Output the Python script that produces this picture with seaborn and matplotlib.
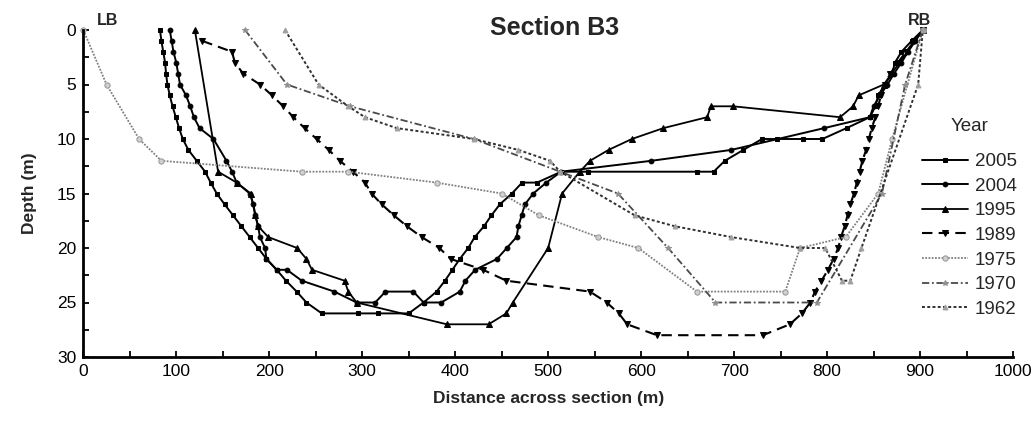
import matplotlib
matplotlib.use("Agg")
import matplotlib.pyplot as plt
import seaborn as sns
from matplotlib.ticker import MultipleLocator

sns.set_theme(style="ticks")
plt.rcParams['font.family'] = ['Liberation Sans', 'DejaVu Sans']

years = ["2005", "2004", "1995", "1989", "1975", "1970", "1962"]

x_2005 = [82.5, 84, 86, 88, 89, 90.5, 93, 96, 99.5, 103, 107, 113, 122, 131, 137, 143.5, 152, 161, 170, 179,
          188, 197, 208, 218, 229.5, 240, 256.5, 296, 317, 350, 366, 380, 389, 397, 405, 414, 421, 431, 439, 448,
          461, 472, 488, 514, 543, 660, 678, 690, 710, 730, 746, 774, 795, 821, 846, 852, 855, 862, 870, 873,
          880, 891, 903]
d_2005 = [0, 1, 2, 3, 4, 5, 6, 7, 8, 9, 10, 11, 12, 13, 14, 15, 16, 17, 18, 19, 20, 21, 22, 23, 24, 25, 26,
          26, 26, 26, 25, 24, 23, 22, 21, 20, 19, 18, 17, 16, 15, 14, 14, 13, 13, 13, 13, 12, 11, 10, 10, 10, 10,
          9, 8, 7, 6, 5, 4, 3, 2, 1, 0]

x_2004 = [93, 95, 97, 100, 102, 104, 110.5, 115, 119, 125, 140, 154, 160, 165, 179, 183, 185, 188, 190, 195.5,
          197, 208, 219, 235, 270, 294, 314, 325, 355, 366, 385, 405, 411, 421.5, 445, 455.5, 466, 468, 471.5,
          475, 484, 498, 514, 611, 697, 797, 846, 850, 857, 865, 872, 880, 887, 895, 903]
d_2004 = [0, 1, 2, 3, 4, 5, 6, 7, 8, 9, 10, 12, 13, 14, 15, 16, 17, 18, 19, 20, 21, 22, 22, 23, 24, 25, 25, 24,
          24, 25, 25, 24, 23, 22, 21, 20, 19, 18, 17, 16, 15, 14, 13, 12, 11, 9, 8, 7, 6, 5, 4, 3, 2, 1, 0]

x_1995 = [120, 145, 165, 180, 185, 188, 199, 230, 240, 246, 281, 285, 294, 391, 436, 455, 462, 500, 515, 534,
          545, 565, 590, 624, 671, 675, 699, 814, 828, 834, 861, 903]
d_1995 = [0, 13, 14, 15, 17, 18, 19, 20, 21, 22, 23, 24, 25, 27, 27, 26, 25, 20, 15, 13,
          12, 11, 10, 9, 8, 7, 7, 8, 7, 6, 5, 0]

x_1989 = [128, 160, 163, 172, 190, 203, 215, 226, 238, 251, 264, 276, 290, 303, 310, 321, 334, 348, 364, 383,
          395, 430, 455, 545, 563, 576, 585, 617, 731, 760, 773, 782, 787, 794, 801, 807, 812, 815, 819, 822,
          825, 829, 832, 835, 838, 842, 845, 848, 852, 855, 858, 862, 868, 876, 885, 894, 903]
d_1989 = [1, 2, 3, 4, 5, 6, 7, 8, 9, 10, 11, 12, 13, 14, 15, 16, 17, 18, 19, 20, 21, 22, 23, 24, 25, 26, 27, 28,
          28, 27, 26, 25, 24, 23, 22, 21, 20, 19, 18, 17, 16, 15, 14, 13, 12, 11, 10, 9, 8, 7, 6, 5, 4, 3, 2, 1, 0]

x_1975 = [0, 25, 60, 84, 235, 285, 380, 450, 490, 554, 597, 660, 755, 771, 820, 855, 870, 903]
d_1975 = [0, 5, 10, 12, 13, 13, 14, 15, 17, 19, 20, 24, 24, 20, 19, 15, 10, 0]

x_1970 = [174, 219, 287, 420, 513, 575, 629, 680, 789, 859, 884, 903]
d_1970 = [0, 5, 7, 10, 13, 15, 20, 25, 25, 15, 5, 0]

x_1962 = [217, 253, 285, 303, 337, 420, 468, 502, 513, 593, 636, 697, 771, 798, 816, 825, 837, 898, 903]
d_1962 = [0, 5, 7, 8, 9, 10, 11, 12, 13, 17, 18, 19, 20, 20, 23, 23, 20, 5, 0]

series = {
    "2005": (x_2005, d_2005),
    "2004": (x_2004, d_2004),
    "1995": (x_1995, d_1995),
    "1989": (x_1989, d_1989),
    "1975": (x_1975, d_1975),
    "1970": (x_1970, d_1970),
    "1962": (x_1962, d_1962),
}

styles = {
    "2005": dict(color="black", linestyle="-", linewidth=1.4, marker="s", markersize=3.2,
                 markerfacecolor="black", markeredgecolor="black"),
    "2004": dict(color="black", linestyle="-", linewidth=1.4, marker="o", markersize=3.4,
                 markerfacecolor="black", markeredgecolor="black"),
    "1995": dict(color="black", linestyle="-", linewidth=1.3, marker="^", markersize=4,
                 markerfacecolor="black", markeredgecolor="black"),
    "1989": dict(color="black", linestyle=(0, (5, 3)), linewidth=1.5, marker="v", markersize=5,
                 markerfacecolor="black", markeredgecolor="black"),
    "1975": dict(color="#808080", linestyle=(0, (1, 0.8)), linewidth=1.3, marker="o", markersize=3.8,
                 markerfacecolor="#d0d0d0", markeredgecolor="#9a9a9a"),
    "1970": dict(color="#4a4a4a", linestyle=(0, (4, 1.5, 1, 1.5)), linewidth=1.3, marker="*", markersize=4,
                 markerfacecolor="#909090", markeredgecolor="#909090"),
    "1962": dict(color="#303030", linestyle=(0, (1.5, 1.2)), linewidth=1.4, marker="^", markersize=3.5,
                 markerfacecolor="#a0a0a0", markeredgecolor="#a0a0a0"),
}

W, H = 1035, 426
fig = plt.figure(figsize=(W / 100, H / 100), dpi=100)
ax_l, ax_r, ax_t, ax_b = 83.3, 1013, 30, 357
ax = fig.add_axes([ax_l / W, 1 - ax_b / H, (ax_r - ax_l) / W, (ax_b - ax_t) / H])

for yr in years:
    xs, ds = series[yr]
    sns.lineplot(x=xs, y=ds, ax=ax, sort=False, estimator=None, label=yr, clip_on=False, **styles[yr])

ax.set_xlim(0, 1000)
ax.set_ylim(30, 0)
ax.xaxis.set_major_locator(MultipleLocator(100))
ax.xaxis.set_minor_locator(MultipleLocator(50))
ax.yaxis.set_major_locator(MultipleLocator(5))
ax.yaxis.set_minor_locator(MultipleLocator(2.5))
ax.tick_params(which="both", direction="in", length=4, width=1.3, colors="black", labelsize=12.5)
ax.tick_params(axis="x", pad=5)
ax.tick_params(axis="y", pad=5)
for s in ["top", "right"]:
    ax.spines[s].set_visible(False)
for s in ["left", "bottom"]:
    ax.spines[s].set_linewidth(2)
    ax.spines[s].set_color("black")

ax.set_xlabel("Distance across section (m)", fontsize=12.5, fontweight="bold", labelpad=9)
ax.set_ylabel("Depth (m)", fontsize=12.5, fontweight="bold", labelpad=14)

ax.text(0.507, 0.985, "Section B3", transform=ax.transAxes, ha="center", va="baseline",
        fontsize=18, fontweight="bold")
ax.text(26, -0.46, "LB", ha="center", va="baseline", fontsize=11.5, fontweight="bold", clip_on=False)
ax.text(899, -0.46, "RB", ha="center", va="baseline", fontsize=11.5, fontweight="bold", clip_on=False)

fig.text(970 / W, 1 - 131 / H, "Year", ha="center", va="baseline", fontsize=13.5)

handles, labels = ax.get_legend_handles_labels()
leg = ax.legend(handles, labels, loc="upper left",
                bbox_to_anchor=(921.7 / W, 1 - 153 / H), bbox_transform=fig.transFigure,
                frameon=False, fontsize=13.5, handlelength=2.45,
                handletextpad=0.37, labelspacing=0.4, borderpad=0, borderaxespad=0)

fig.savefig("out.png", dpi=100)
